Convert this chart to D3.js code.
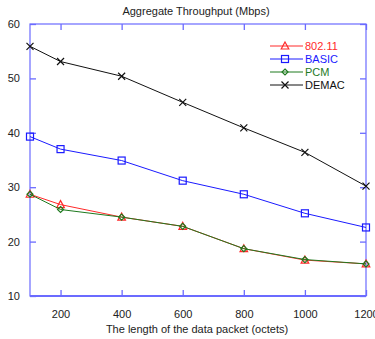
<!DOCTYPE html>
<html><head><meta charset="utf-8">
<script src="https://cdn.jsdelivr.net/npm/d3@7"></script>
<style>body{margin:0;background:#fff}svg{display:block}text{font-family:"Liberation Sans",Arial,sans-serif}</style>
</head><body>
<svg id="c" width="375" height="339"></svg>
<script>
const packetSizes = [100, 200, 400, 600, 800, 1000, 1200];
const s80211 = [28.7, 26.8, 24.5, 22.8, 18.7, 16.6, 15.9];
const sBasic = [39.3, 37.0, 34.9, 31.2, 28.7, 25.2, 22.6];
const sPcm   = [28.7, 25.9, 24.5, 22.8, 18.7, 16.7, 15.9];
const sDemac = [55.9, 53.1, 50.4, 45.6, 40.9, 36.4, 30.2];
const xTicks = [200, 400, 600, 800, 1000, 1200];
const yTicks = [10, 20, 30, 40, 50, 60];
const seriesNames = ["802.11", "BASIC", "PCM", "DEMAC"];

const series = [
  {name: seriesNames[0], values: s80211, color: "#ff2a2a", marker: "tri"},
  {name: seriesNames[1], values: sBasic, color: "#1a1aff", marker: "sq"},
  {name: seriesNames[2], values: sPcm, color: "#1f7a1f", marker: "dia"},
  {name: seriesNames[3], values: sDemac, color: "#111111", marker: "x"}
];

const svg = d3.select("#c");
const L = 30, R = 366, T = 24, B = 296;
const x = d3.scaleLinear().domain([100, 1200]).range([L, R]);
const y = d3.scaleLinear().domain([10, 60]).range([B, T]);
const axisColor = "#6b6bff";

// frame
svg.append("rect").attr("x", L).attr("y", T).attr("width", R - L).attr("height", B - T)
  .attr("fill", "none").attr("stroke", axisColor).attr("stroke-width", 1.2);
svg.append("line").attr("x1", L).attr("x2", R).attr("y1", B).attr("y2", B)
  .attr("stroke", axisColor).attr("stroke-width", 2.2);

// inward ticks via axes
const gB = svg.append("g").attr("transform", `translate(0,${B})`)
  .call(d3.axisBottom(x).tickValues(xTicks).tickSize(-6).tickPadding(14).tickFormat(d3.format("d")));
const gT = svg.append("g").attr("transform", `translate(0,${T})`)
  .call(d3.axisTop(x).tickValues(xTicks).tickSize(-6).tickFormat(""));
const gL = svg.append("g").attr("transform", `translate(${L},0)`)
  .call(d3.axisLeft(y).tickValues(yTicks).tickSize(-6).tickPadding(10));
const gR = svg.append("g").attr("transform", `translate(${R},0)`)
  .call(d3.axisRight(y).tickValues(yTicks).tickSize(-6).tickFormat(""));
[gB, gT, gL, gR].forEach(g => {
  g.select(".domain").remove();
  g.selectAll(".tick line").attr("stroke", axisColor).attr("stroke-width", 1.3);
  g.selectAll(".tick text").attr("fill", "#222").attr("font-size", 11);
});

// title & x label
svg.append("text").attr("x", 196).attr("y", 15).attr("text-anchor", "middle")
  .attr("font-size", 11).attr("fill", "#222").text("Aggregate Throughput (Mbps)");
svg.append("text").attr("x", 197).attr("y", 333).attr("text-anchor", "middle")
  .attr("font-size", 11).attr("fill", "#222").text("The length of the data packet (octets)");

function marker(g, m, cx, cy, color) {
  if (m === "tri") {
    g.append("path").attr("d", `M${cx},${cy-4}L${cx+3.8},${cy+3}L${cx-3.8},${cy+3}Z`)
      .attr("fill", "none").attr("stroke", color).attr("stroke-width", 1.2);
  } else if (m === "sq") {
    g.append("rect").attr("x", cx - 3.5).attr("y", cy - 3.5).attr("width", 7).attr("height", 7)
      .attr("fill", "none").attr("stroke", color).attr("stroke-width", 1.2);
  } else if (m === "dia") {
    g.append("path").attr("d", `M${cx},${cy-3}L${cx+3},${cy}L${cx},${cy+3}L${cx-3},${cy}Z`)
      .attr("fill", "none").attr("stroke", color).attr("stroke-width", 1.2);
  } else {
    g.append("path").attr("d", `M${cx-3.5},${cy-3.5}L${cx+3.5},${cy+3.5}M${cx-3.5},${cy+3.5}L${cx+3.5},${cy-3.5}`)
      .attr("stroke", color).attr("stroke-width", 1.2);
  }
}

const line = d3.line().x((d, i) => x(packetSizes[i])).y(d => y(d));
series.forEach(s => {
  const g = svg.append("g");
  g.append("path").attr("d", line(s.values)).attr("fill", "none")
    .attr("stroke", s.color).attr("stroke-width", 1);
  s.values.forEach((v, i) => marker(g, s.marker, x(packetSizes[i]), y(v), s.color));
});

// legend
const lg = svg.append("g");
series.forEach((s, i) => {
  const ly = 46 + i * 13;
  lg.append("line").attr("x1", 270).attr("x2", 303).attr("y1", ly).attr("y2", ly)
    .attr("stroke", s.color).attr("stroke-width", 1);
  marker(lg, s.marker, 285, ly, s.color);
  lg.append("text").attr("x", 305).attr("y", ly + 4).attr("font-size", 11)
    .attr("fill", s.name === "DEMAC" ? "#111" : s.color).text(s.name);
});
</script>
</body></html>
